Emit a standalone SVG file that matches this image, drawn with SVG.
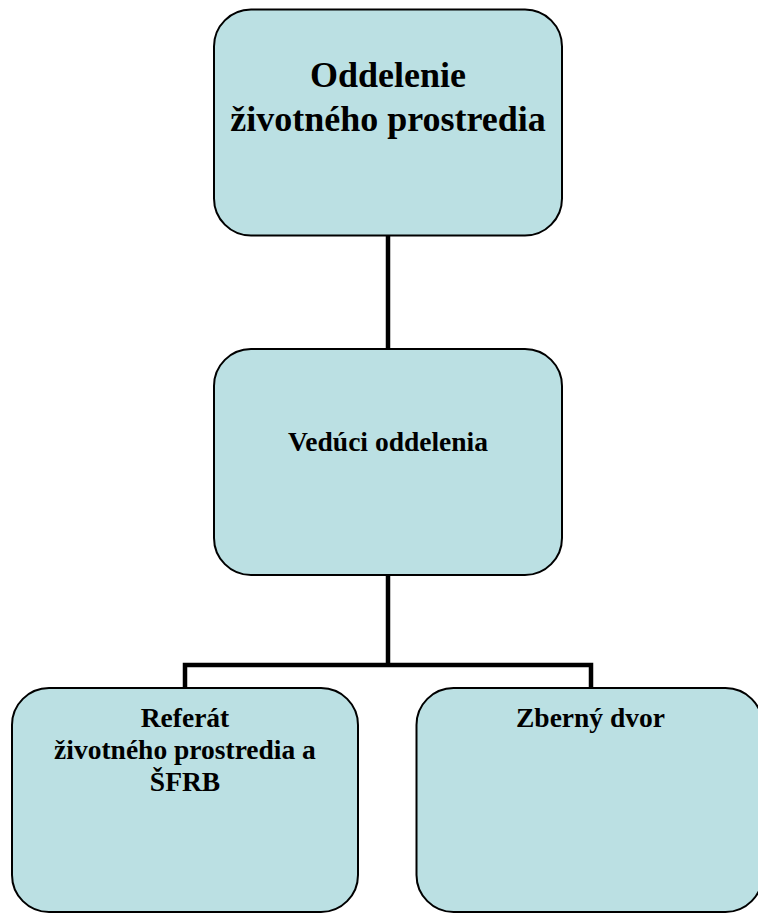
<svg xmlns="http://www.w3.org/2000/svg" width="758" height="913" viewBox="0 0 758 913">
<style>
.box{fill:#BBE0E3;stroke:#000;stroke-width:2}
.t{font-family:"Liberation Serif","Times New Roman",serif;font-weight:bold;fill:#000;text-anchor:middle}
.big{font-size:36px}
.sm{font-size:27.5px}
.conn{fill:none;stroke:#000;stroke-width:4.5;stroke-linejoin:miter;stroke-linecap:butt}
</style>
<rect x="0" y="0" width="758" height="913" fill="#fff"/>
<g id="connectors">
<path class="conn" d="M388 235 V349"/>
<path class="conn" d="M388 575 V665"/>
<path class="conn" d="M185 689 V665 H591 V689"/>
</g>
<g id="node-oddelenie">
<rect class="box" x="214" y="9.5" width="348" height="226" rx="37" ry="37"/>
<text class="t big" x="388" y="87">Oddelenie</text>
<text class="t big" x="388" y="131">životného prostredia</text>
</g>
<g id="node-veduci">
<rect class="box" x="214" y="349" width="348" height="226" rx="37" ry="37"/>
<text class="t sm" x="388" y="451">Vedúci oddelenia</text>
</g>
<g id="node-referat">
<rect class="box" x="12" y="688" width="346" height="224" rx="37" ry="37"/>
<text class="t sm" x="185" y="727">Referát</text>
<text class="t sm" x="185" y="759">životného prostredia a</text>
<text class="t sm" x="185" y="791">ŠFRB</text>
</g>
<g id="node-zberny">
<rect class="box" x="416.5" y="688" width="346" height="224" rx="37" ry="37"/>
<text class="t sm" x="590.5" y="727">Zberný dvor</text>
</g>
</svg>
